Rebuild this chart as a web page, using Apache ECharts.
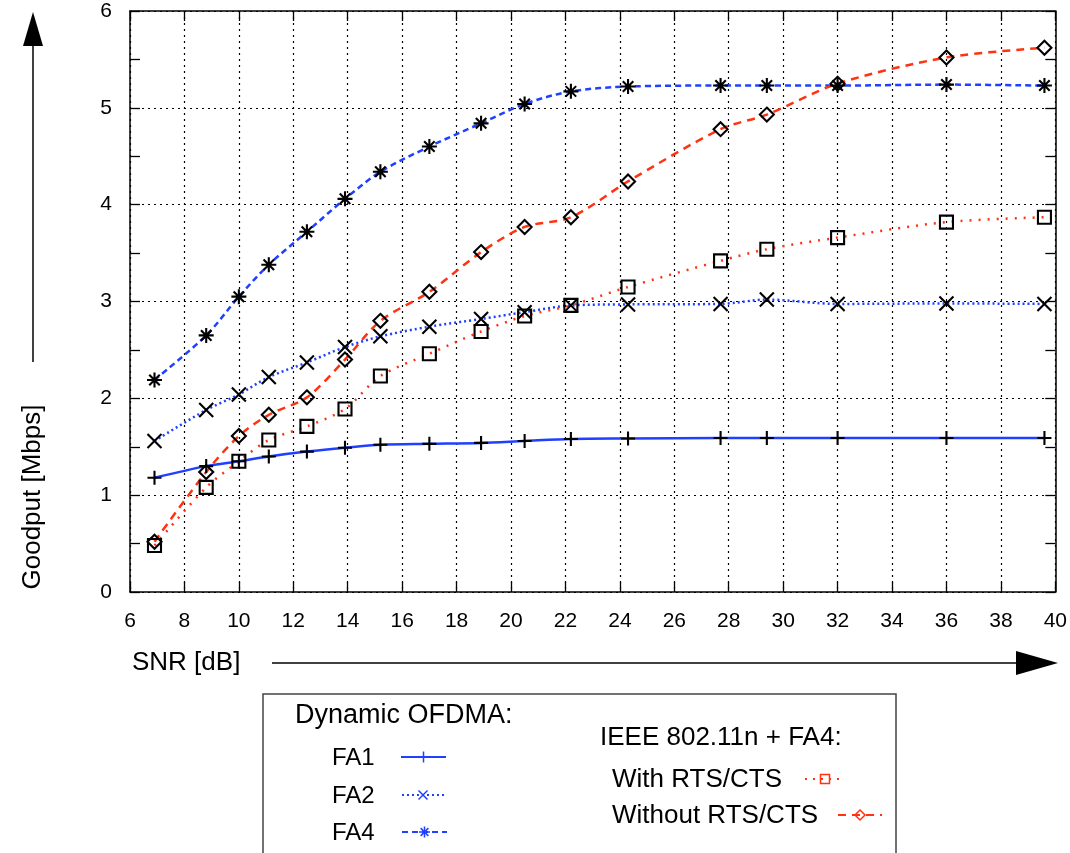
<!DOCTYPE html>
<html><head><meta charset="utf-8">
<script src="https://cdn.jsdelivr.net/npm/echarts@6/dist/echarts.min.js"></script>
<style>html,body{margin:0;padding:0;background:#fff}#c{width:1070px;height:853px}</style>
</head><body><div id="c"></div><script>
// SNR [dB] sample points
const snr = [6.9, 8.8, 10.0, 11.1, 12.5, 13.9, 15.2, 17.0, 18.9, 20.5, 22.2, 24.3, 27.7, 29.4, 32.0, 36.0, 39.6];
// Goodput [Mbps]
const fa1 = [1.18, 1.30, 1.35, 1.40, 1.45, 1.49, 1.52, 1.53, 1.54, 1.56, 1.58, 1.585, 1.59, 1.59, 1.59, 1.59, 1.59];
const fa2 = [1.56, 1.88, 2.04, 2.22, 2.37, 2.53, 2.64, 2.74, 2.82, 2.89, 2.96, 2.97, 2.975, 3.02, 2.975, 2.98, 2.975];
const fa4 = [2.19, 2.65, 3.05, 3.38, 3.72, 4.06, 4.34, 4.60, 4.84, 5.04, 5.17, 5.22, 5.23, 5.23, 5.23, 5.24, 5.23];
const withRts = [0.48, 1.08, 1.35, 1.57, 1.71, 1.89, 2.23, 2.46, 2.69, 2.85, 2.96, 3.15, 3.42, 3.54, 3.66, 3.82, 3.87];
const withoutRts = [0.52, 1.24, 1.61, 1.83, 2.01, 2.40, 2.80, 3.10, 3.51, 3.77, 3.87, 4.24, 4.78, 4.93, 5.25, 5.52, 5.62];

const xTitle = 'SNR [dB]';
const yTitle = 'Goodput [Mbps]';
const legendHead1 = 'Dynamic OFDMA:';
const legendHead2 = 'IEEE 802.11n + FA4:';
const names = ['FA1', 'FA2', 'FA4', 'With RTS/CTS', 'Without RTS/CTS'];

const BLUE = '#1f40ff';
const RED = '#ff3311';
const FONT = '"Liberation Sans", Arial, sans-serif';

const SYM = {
  plus: 'path://M0,5L10,5M5,0L5,10',
  cross: 'path://M0,0L10,10M0,10L10,0',
  star: 'path://M0,5L10,5M5,0L5,10M1.5,1.5L8.5,8.5M1.5,8.5L8.5,1.5',
  square: 'path://M0,0L10,0L10,10L0,10Z',
  diamond: 'path://M5,0L10,5L5,10L0,5Z'
};

function pairs(ys) { return snr.map((x, i) => [x, ys[i]]); }

function mkSeries(name, ys, color, dash, sym, size) {
  return {
    name: name, type: 'line', data: pairs(ys),
    smooth: 0.3, symbol: SYM[sym], symbolSize: size,
    lineStyle: { color: color, width: 2.5, type: dash },
    itemStyle: { color: 'rgba(0,0,0,0)', borderColor: '#000', borderWidth: 2.1 },
    emphasis: { disabled: true }, z: 3
  };
}

// legend marker graphics
function marker(kind, cx, cy, s, color) {
  const h = s / 2, st = { stroke: color, lineWidth: 1.5, fill: null };
  const L = (x1, y1, x2, y2) => ({ type: 'line', shape: { x1: x1, y1: y1, x2: x2, y2: y2 }, style: st });
  if (kind === 'plus') return [L(cx - h, cy, cx + h, cy), L(cx, cy - h, cx, cy + h)];
  if (kind === 'cross') return [L(cx - h, cy - h, cx + h, cy + h), L(cx - h, cy + h, cx + h, cy - h)];
  if (kind === 'star') return [L(cx - h, cy, cx + h, cy), L(cx, cy - h, cx, cy + h), L(cx - h * .7, cy - h * .7, cx + h * .7, cy + h * .7), L(cx - h * .7, cy + h * .7, cx + h * .7, cy - h * .7)];
  if (kind === 'square') return [{ type: 'rect', shape: { x: cx - h, y: cy - h, width: s, height: s }, style: st }];
  if (kind === 'diamond') return [{ type: 'polygon', shape: { points: [[cx, cy - h], [cx + h, cy], [cx, cy + h], [cx - h, cy]] }, style: st }];
  return [];
}
function sample(x1, x2, y, color, dash, kind, s) {
  const arr = [{ type: 'line', shape: { x1: x1, y1: y, x2: x2, y2: y }, style: { stroke: color, lineWidth: 2, lineDash: dash } }];
  return arr.concat(marker(kind, (x1 + x2) / 2, y, s, color));
}
function txt(t, x, y, size, extra) {
  return Object.assign({ type: 'text', x: x, y: y, style: { text: t, font: size + 'px ' + FONT, fill: '#000', textVerticalAlign: 'middle', verticalAlign: 'middle' } }, extra || {});
}

const graphics = [
  // y arrow
  { type: 'line', shape: { x1: 33, y1: 362, x2: 33, y2: 40 }, style: { stroke: '#000', lineWidth: 1.5 } },
  { type: 'polygon', shape: { points: [[33, 12], [43, 46], [23, 46]] }, style: { fill: '#000' } },
  // x arrow
  { type: 'line', shape: { x1: 272, y1: 663, x2: 1020, y2: 663 }, style: { stroke: '#000', lineWidth: 1.5 } },
  { type: 'polygon', shape: { points: [[1058, 663], [1016, 651], [1016, 675]] }, style: { fill: '#000' } },
  { type: 'text', x: 33, y: 497, rotation: Math.PI / 2, style: { text: yTitle, font: '26px ' + FONT, fill: '#000', align: 'center', verticalAlign: 'middle' } },
  txt(xTitle, 132, 663, 26),
  // legend box
  { type: 'rect', shape: { x: 263, y: 694, width: 633, height: 220 }, style: { stroke: '#444', lineWidth: 1.5, fill: null } },
  txt(legendHead1, 295, 716, 27),
  txt(names[0], 332, 758, 24),
  txt(names[1], 332, 796, 24),
  txt(names[2], 332, 833, 24),
  txt(legendHead2, 600, 738, 26),
  txt(names[3], 612, 780, 26),
  txt(names[4], 612, 816, 26)
].concat(
  sample(401, 446, 757, BLUE, null, 'plus', 11),
  sample(402, 444, 795, BLUE, [2, 3], 'cross', 9),
  sample(402, 447, 832, BLUE, [6, 4], 'star', 11),
  sample(805, 845, 779, RED, [2, 6], 'square', 9),
  sample(838, 882, 815, RED, [8, 6], 'diamond', 10)
);

const axisLineStyle = { color: '#000', width: 1.5 };
const chart = echarts.init(document.getElementById('c'), null, { renderer: 'canvas' });
chart.setOption({
  animation: false,
  backgroundColor: '#fff',
  grid: { left: 130, right: 12, top: 11, bottom: 261 },
  xAxis: [
    {
      type: 'value', min: 6, max: 40, interval: 2, position: 'bottom',
      axisLine: { show: true, onZero: false, lineStyle: axisLineStyle },
      axisTick: { show: true, inside: true, length: 10, lineStyle: { color: '#000', width: 1.3 } },
      axisLabel: { color: '#000', fontSize: 21, fontFamily: FONT, margin: 19 },
      splitLine: { show: true, lineStyle: { color: '#000', width: 1.2, type: [2, 4] } }
    },
    {
      type: 'value', min: 6, max: 40, interval: 2, position: 'top',
      axisLine: { show: true, onZero: false, lineStyle: axisLineStyle },
      axisTick: { show: true, inside: true, length: 10, lineStyle: { color: '#000', width: 1.3 } },
      axisLabel: { show: false }, splitLine: { show: false }
    }
  ],
  yAxis: [
    {
      type: 'value', min: 0, max: 6, interval: 1, position: 'left',
      axisLine: { show: true, onZero: false, lineStyle: axisLineStyle },
      axisTick: { show: true, inside: true, length: 10, lineStyle: { color: '#000', width: 1.3 } },
      minorTick: { show: true, splitNumber: 2, length: 10, lineStyle: { color: '#000', width: 1.3 } },
      axisLabel: { color: '#000', fontSize: 21, fontFamily: FONT, margin: 18 },
      splitLine: { show: true, lineStyle: { color: '#000', width: 1.2, type: [2, 4] } }
    },
    {
      type: 'value', min: 0, max: 6, interval: 1, position: 'right',
      axisLine: { show: true, onZero: false, lineStyle: axisLineStyle },
      axisTick: { show: true, inside: true, length: 10, lineStyle: { color: '#000', width: 1.3 } },
      minorTick: { show: true, splitNumber: 2, length: 10, lineStyle: { color: '#000', width: 1.3 } },
      axisLabel: { show: false }, splitLine: { show: false }
    }
  ],
  series: [
    mkSeries(names[0], fa1, BLUE, 'solid', 'plus', 14),
    mkSeries(names[1], fa2, BLUE, [2, 3], 'cross', 14),
    mkSeries(names[2], fa4, BLUE, [6, 4], 'star', 15),
    mkSeries(names[3], withRts, RED, [2, 7], 'square', 13),
    mkSeries(names[4], withoutRts, RED, [8, 6], 'diamond', 14)
  ],
  graphic: graphics
});
</script></body></html>
